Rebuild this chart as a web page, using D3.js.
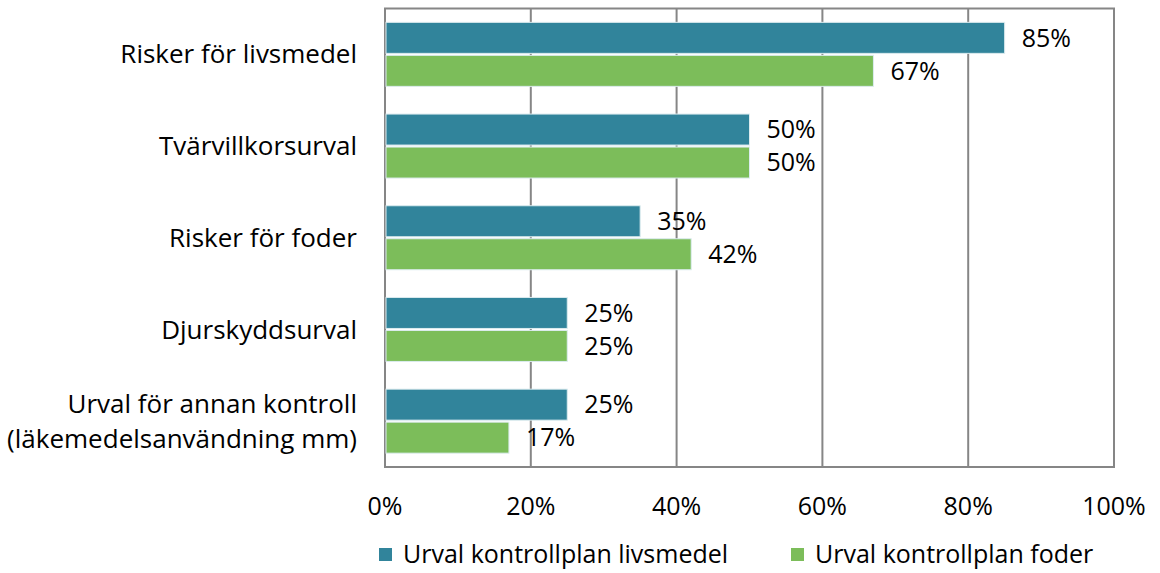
<!DOCTYPE html>
<html>
<head>
<meta charset="utf-8">
<script src="https://d3js.org/d3.v7.min.js"></script>
<style>
  body { margin: 0; background: #fff; }
  text { font-family: "Open Sans", "DejaVu Sans", sans-serif; fill: #000; }
</style>
</head>
<body>
<svg width="1160" height="573"></svg>
<script>
// chart values
var categories = [
  ["Risker för livsmedel"],
  ["Tvärvillkorsurval"],
  ["Risker för foder"],
  ["Djurskyddsurval"],
  ["Urval för annan kontroll", "(läkemedelsanvändning mm)"]
];
var livsmedel = [85, 50, 35, 25, 25];
var foder = [67, 50, 42, 25, 17];
var seriesNames = ["Urval kontrollplan livsmedel", "Urval kontrollplan foder"];
var tickValues = [0, 20, 40, 60, 80, 100];

var colors = ["#31849b", "#7cbd5a"];
var fontSize = "25px";
var svg = d3.select("svg");

var plotL = 385, plotR = 1114, plotT = 8.5, plotB = 467;

var x = d3.scaleLinear().domain([0, 100]).range([plotL, plotR]);
var y = d3.scaleBand().domain(d3.range(categories.length)).range([plotT, plotB]);

// gridlines
svg.append("g").selectAll("line").data(tickValues.slice(1)).enter().append("line")
  .attr("x1", function (d) { return x(d); })
  .attr("x2", function (d) { return x(d); })
  .attr("y1", plotT).attr("y2", plotB)
  .attr("stroke", "#868686").attr("stroke-width", 2);

// plot frame
svg.append("rect")
  .attr("x", plotL).attr("y", plotT)
  .attr("width", plotR - plotL).attr("height", plotB - plotT)
  .attr("fill", "none").attr("stroke", "#868686").attr("stroke-width", 2);

var barH = 31, gap = 2;
var series = [livsmedel, foder];

series.forEach(function (vals, s) {
  var g = svg.append("g");
  g.selectAll("rect").data(vals).enter().append("rect")
    .attr("x", x(0) + 1)
    .attr("y", function (d, i) { return y(i) + y.bandwidth() / 2 - barH - gap / 2 + s * (barH + gap); })
    .attr("width", function (d) { return x(d) - x(0) - 1; })
    .attr("height", barH)
    .attr("fill", colors[s])
    .attr("stroke", "#dcecef").attr("stroke-width", 1);
  g.selectAll("text").data(vals).enter().append("text")
    .attr("x", function (d) { return x(d) + 17; })
    .attr("y", function (d, i) { return y(i) + y.bandwidth() / 2 - barH / 2 - gap / 2 + s * (barH + gap); })
    .attr("dy", "0.35em")
    .style("font-size", fontSize)
    .text(function (d) { return d + "%"; });
});

// category labels
var cat = svg.append("g").selectAll("text").data(categories).enter().append("text")
  .attr("text-anchor", "end")
  .style("font-size", "26px")
  .attr("x", 357)
  .attr("y", function (d, i) { return y(i) + y.bandwidth() / 2; });
cat.each(function (d) {
  var t = d3.select(this);
  d.forEach(function (line, k) {
    t.append("tspan").attr("x", 357)
      .attr("dy", k === 0 ? (0.35 - (d.length - 1) * 0.68) + "em" : "1.36em")
      .text(line);
  });
});

// x axis labels
svg.append("g").selectAll("text").data(tickValues).enter().append("text")
  .attr("x", function (d) { return x(d); })
  .attr("y", 506).attr("dy", "0.35em")
  .attr("text-anchor", "middle")
  .style("font-size", fontSize)
  .text(function (d) { return d + "%"; });

// legend
var legendX = [379, 791];
var leg = svg.append("g").selectAll("g").data(seriesNames).enter().append("g")
  .attr("transform", function (d, i) { return "translate(" + legendX[i] + ",554)"; });
leg.append("rect").attr("x", 0).attr("y", -6).attr("width", 13).attr("height", 13)
  .attr("fill", function (d, i) { return colors[i]; });
leg.append("text").attr("x", 24).attr("y", 0).attr("dy", "0.35em")
  .style("font-size", fontSize)
  .text(function (d) { return d; });
</script>
</body>
</html>
